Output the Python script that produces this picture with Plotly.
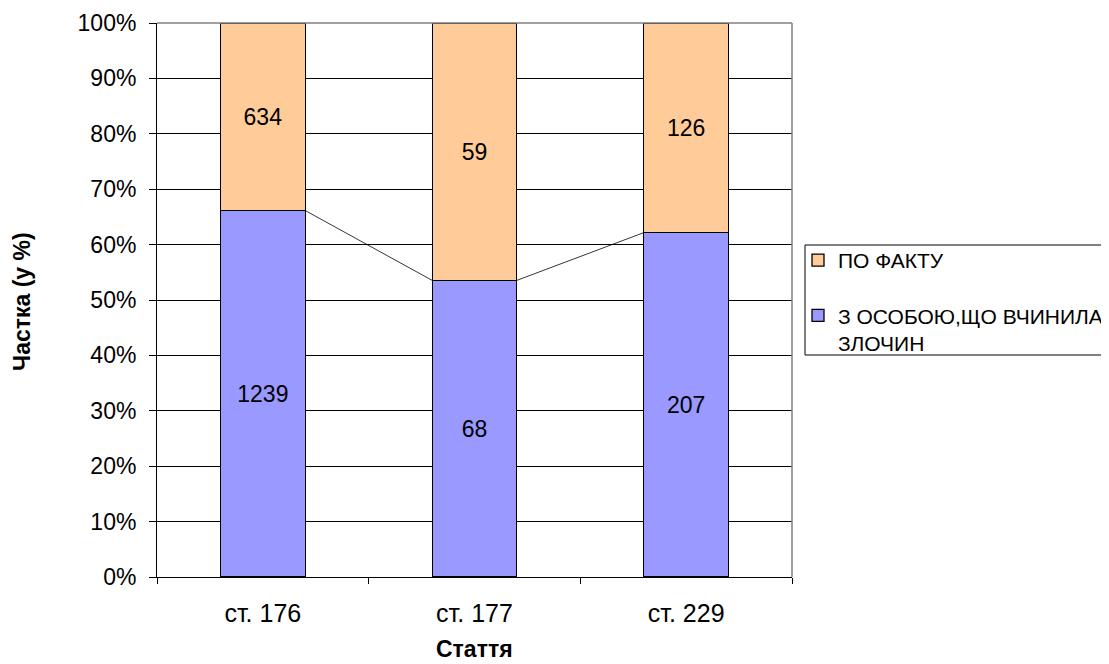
import plotly.graph_objects as go

categories = ["ст. 176", "ст. 177", "ст. 229"]
series_names = ["З ОСОБОЮ,ЩО ВЧИНИЛА<br>ЗЛОЧИН", "ПО ФАКТУ"]
with_person = [1239, 68, 207]
by_fact = [634, 59, 126]
y_ticks = [0, 10, 20, 30, 40, 50, 60, 70, 80, 90, 100]

totals = [a + b for a, b in zip(with_person, by_fact)]
pct_person = [a / t * 100 for a, t in zip(with_person, totals)]
pct_fact = [b / t * 100 for b, t in zip(by_fact, totals)]
xpos = list(range(len(categories)))
bw = 0.4

FONT = "Arial, 'Liberation Sans', sans-serif"

fig = go.Figure()
fig.add_trace(go.Bar(
    x=xpos, y=pct_person, width=bw, name=series_names[0],
    marker=dict(color="#9999FF", line=dict(color="#000000", width=1.3)),
    text=[str(v) for v in with_person], textposition="inside",
    insidetextanchor="middle", textangle=0,
    textfont=dict(size=23, color="#000000", family=FONT),
    legendgroup="a", legendrank=2, hoverinfo="skip",
))
fig.add_trace(go.Bar(
    x=xpos, y=pct_fact, width=bw, name=series_names[1],
    marker=dict(color="#FFCC99", line=dict(color="#000000", width=1.3)),
    text=[str(v) for v in by_fact], textposition="inside",
    insidetextanchor="middle", textangle=0,
    textfont=dict(size=23, color="#000000", family=FONT),
    legendgroup="b", legendrank=1, hoverinfo="skip",
))

# series lines connecting the tops of the lower series
lx, ly = [], []
for i in range(len(categories) - 1):
    lx += [xpos[i] + bw / 2, xpos[i + 1] - bw / 2, None]
    ly += [pct_person[i], pct_person[i + 1], None]
fig.add_trace(go.Scatter(x=lx, y=ly, mode="lines",
                         line=dict(color="#000000", width=0.8),
                         showlegend=False, hoverinfo="skip"))

# page body adds an 8px offset; positions below are in figure pixels
W, H = 1101, 656
L, R, T, B = 149, 784, 15, 569
pw, ph = R - L, B - T


def px(x):
    return (x - L) / pw


def py(y):
    return (B - y) / ph


fig.update_layout(
    width=W, height=H,
    margin=dict(l=L, r=W - R, t=T, b=H - B, autoexpand=False),
    barmode="stack",
    paper_bgcolor="white", plot_bgcolor="white",
    font=dict(family=FONT, size=20, color="#000000"),
    showlegend=True,
    legend=dict(
        x=px(790), xanchor="left",
        y=py(232), yanchor="top",
        traceorder="grouped", tracegroupgap=25,
        borderwidth=0, bgcolor="rgba(0,0,0,0)",
        font=dict(size=21, family=FONT),
        valign="top",
    ),
    xaxis=dict(
        range=[-0.5, len(categories) - 0.5],
        tickvals=xpos, ticktext=categories,
        ticks="", showgrid=False, zeroline=False,
        showline=True, linecolor="#000000", linewidth=1,
        tickfont=dict(size=25, family=FONT),
        ticklabelstandoff=14,
        minor=dict(tickvals=[-0.5, 0.5, 1.5, 2.5], ticks="outside",
                   ticklen=6, tickcolor="#000000", showgrid=False),
    ),
    yaxis=dict(
        range=[0, 100],
        tickvals=y_ticks, ticktext=[f"{v}%" for v in y_ticks],
        ticks="outside", ticklen=7, tickcolor="#000000",
        showgrid=True, gridcolor="#000000", gridwidth=1,
        zeroline=False,
        showline=True, linecolor="#000000", linewidth=1,
        tickfont=dict(size=23, family=FONT),
        ticklabelstandoff=8,
    ),
    annotations=[
        dict(text="<b>Стаття</b>", xref="paper", yref="paper",
             x=px(466), y=py(641), xanchor="center", yanchor="middle",
             showarrow=False, font=dict(size=23, family=FONT)),
        dict(text="<b>Частка (у %)</b>", xref="paper", yref="paper",
             x=px(14), y=py(294), xanchor="center", yanchor="middle",
             textangle=-90, showarrow=False, font=dict(size=23, family=FONT)),
    ],
    shapes=[
        dict(type="line", xref="paper", yref="paper", x0=1, x1=1, y0=0, y1=1,
             line=dict(color="#808080", width=1.5)),
        dict(type="line", xref="paper", yref="paper", x0=0, x1=1, y0=1, y1=1,
             line=dict(color="#808080", width=1.5)),
        dict(type="rect", xref="paper", yref="paper",
             x0=px(797), x1=px(1100), y0=py(237), y1=py(347),
             line=dict(color="#000000", width=1)),
    ],
)

fig.write_html("out.html")
